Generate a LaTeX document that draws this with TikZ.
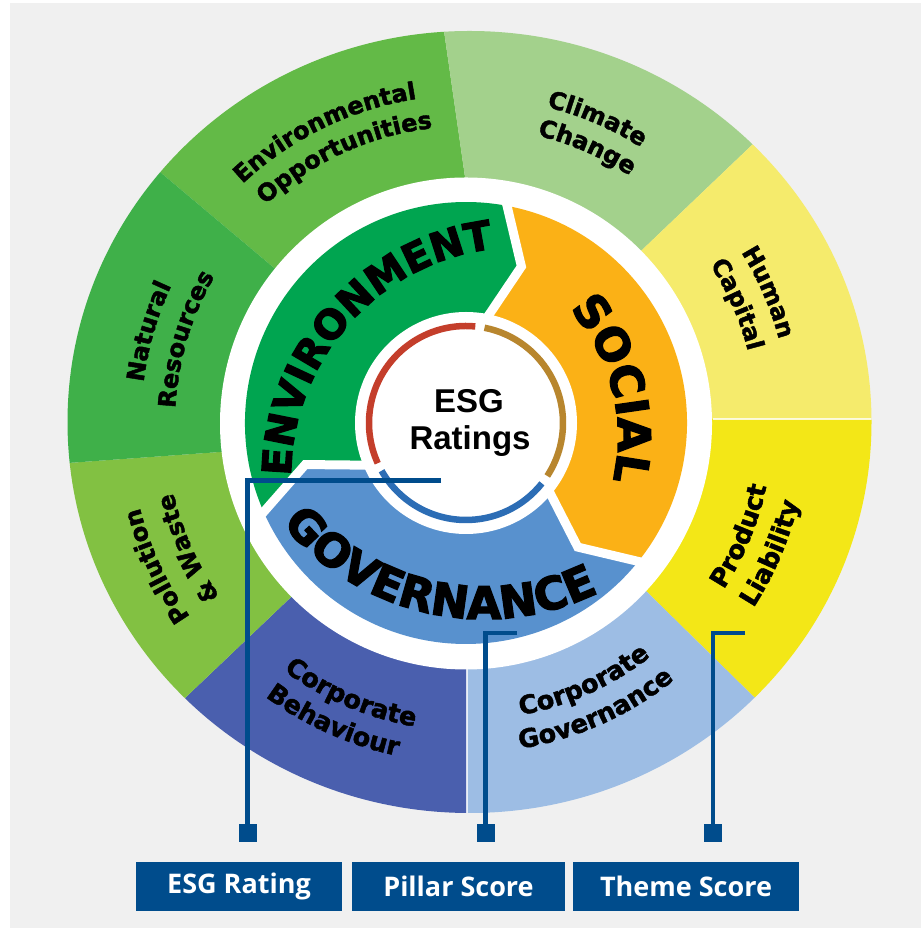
\documentclass[tikz,border=0pt]{standalone}
\usepackage{fontspec}
\setmainfont{Liberation Sans}
\newfontfamily\heavyfont{DejaVu Sans}[BoldFeatures={FakeBold=1.8}]
\newfontfamily\blackfont{DejaVu Sans}[BoldFeatures={FakeBold=3}]
\newfontfamily\boxfont{Open Sans}
\usetikzlibrary{decorations.text}

\definecolor{bggray}{HTML}{F0F0F0}
\definecolor{envopp}{HTML}{63BA47}
\definecolor{climate}{HTML}{A3D18C}
\definecolor{human}{HTML}{F5EB6C}
\definecolor{product}{HTML}{F3E717}
\definecolor{corpgov}{HTML}{9DBDE4}
\definecolor{corpbeh}{HTML}{4A5FAE}
\definecolor{pollution}{HTML}{82C142}
\definecolor{natural}{HTML}{3FB049}
\definecolor{envpillar}{HTML}{00A550}
\definecolor{socpillar}{HTML}{FBB116}
\definecolor{govpillar}{HTML}{5891CE}
\definecolor{ringred}{HTML}{C43E2B}
\definecolor{ringbrown}{HTML}{B8862E}
\definecolor{ringblue}{HTML}{2C6DB5}
\definecolor{navy}{HTML}{004C8C}

\newcommand\envfont{\blackfont\bfseries\fontsize{40}{40}\selectfont}
\newcommand\socfont{\blackfont\bfseries\fontsize{45}{45}\selectfont}
\newcommand\govfont{\blackfont\bfseries\fontsize{45}{45}\selectfont}
\newcommand\themefont{\heavyfont\bfseries\fontsize{24}{24}\selectfont}
\newcommand\themefontbig{\heavyfont\bfseries\fontsize{25.5}{25.5}\selectfont}

\begin{document}
\begin{tikzpicture}[x=1pt,y=1pt,
  conn/.style={draw=navy, line width=4.5pt},
  marker/.style={fill=navy, minimum size=18pt, inner sep=0pt, outer sep=0pt},
  scorebox/.style={fill=navy, text=white, minimum height=49pt, inner sep=0pt,
    font=\boxfont\bfseries\fontsize{27}{27}\selectfont},
  chevron/.style={draw=white, line width=9pt, line join=miter},
  seam/.style={draw=white, opacity=0.8, line width=2pt},
  ringarc/.style={line width=6.5pt}
]
\useasboundingbox (0,0) rectangle (921,928);
\fill[bggray] (10,0) rectangle (921,925);

% ---- outer ring of themes ----
\coordinate (c) at (467,505);
\coordinate (p1) at (465,751);  \coordinate (e1) at (402,1189);
\coordinate (p2) at (642,678);  \coordinate (e2) at (972,993);
\coordinate (p3) at (713,509);  \coordinate (e3) at (1190,509);
\coordinate (p4) at (647,336);  \coordinate (e4) at (968,21);
\coordinate (p5) at (467,259);  \coordinate (e5) at (467,-173);
\coordinate (p6) at (288,328);  \coordinate (e6) at (-21,34);
\coordinate (p7) at (220,476);  \coordinate (e7) at (-236,443);
\coordinate (p8) at (273,661);  \coordinate (e8) at (-66,946);
\begin{scope}
  \clip (469.5,506) ellipse [x radius=402, y radius=391];
  \fill[envopp]    (c) -- (p8) -- (e8) -- (e1) -- (p1) -- cycle;
  \fill[climate]   (c) -- (p1) -- (e1) -- (e2) -- (p2) -- cycle;
  \fill[human]     (c) -- (p2) -- (e2) -- (e3) -- (p3) -- cycle;
  \fill[product]   (c) -- (p3) -- (e3) -- (e4) -- (p4) -- cycle;
  \fill[corpgov]   (c) -- (p4) -- (e4) -- (e5) -- (p5) -- cycle;
  \fill[corpbeh]   (c) -- (p5) -- (e5) -- (e6) -- (p6) -- cycle;
  \fill[pollution] (c) -- (p6) -- (e6) -- (e7) -- (p7) -- cycle;
  \fill[natural]   (c) -- (p7) -- (e7) -- (e8) -- (p8) -- cycle;
  \draw[seam] (p3) -- (e3);
  \draw[seam] (p5) -- (e5);
\end{scope}
\fill[white] (466,504.5) circle [radius=246];

% ---- pillar ring ----
\begin{scope}[shift={(466,505)}]
  \fill[envpillar] (0,0) -- (205:100) -- (194.5:166) -- (205:221)
    arc[start angle=205, end angle=80.5, radius=221] -- (70.5:166) -- (80.5:100) -- cycle;
  \fill[socpillar] (0,0) -- (80.5:100) -- (70.5:166) -- (80.5:221)
    arc[start angle=80.5, end angle=-37.5, radius=221] -- (-48:167) -- (-37.5:100) -- cycle;
  \fill[govpillar] (0,0) -- (-37.5:100) -- (-48:167) -- (-37.5:221)
    arc[start angle=-37.5, end angle=-155, radius=221] -- (194.5:166) -- (205:100) -- cycle;
  \draw[chevron] (80.5:100) -- (70.5:166) -- (80.5:232);
  \draw[chevron] (-37.5:100) -- (-48:167) -- (-37.5:232);
  \draw[chevron] (205:100) -- (194.5:166) -- (205:232);
  % centre disc with its three coloured arcs
  \fill[white] (0,0) circle [radius=111];
  \draw[ringarc, ringred]   (84.5:97)  arc[start angle=84.5,  end angle=204.5, radius=97];
  \draw[ringarc, ringblue]  (209.5:97) arc[start angle=209.5, end angle=321.5, radius=97];
  \draw[ringarc, ringbrown] (326.9:97) arc[start angle=326.9, end angle=439,   radius=97];
\end{scope}

% ---- centre title ----
\node[anchor=base, font=\bfseries\fontsize{33}{33}\selectfont, inner sep=0pt] (esg) at (469,515) {ESG};
\node[anchor=base, font=\bfseries\fontsize{33}{33}\selectfont, inner sep=0pt] (ratings) at (470,478) {Ratings};

% ---- pillar names ----
\path[decorate, decoration={text along path, text align=center, text={|\envfont|ENVIRONMENT}}]
  (521,451) ++(178.1:230) arc[start angle=178.1, end angle=98.5, radius=230];
\path[decorate, decoration={text along path, text align=center, text={|\socfont|SOCIAL}}]
  (426,491.5) ++(41.3:192) arc[start angle=41.3, end angle=-12.9, radius=192];
\path[decorate, decoration={text along path, text align=center, text={|\govfont|GOVERNANCE}}]
  (484,570) ++(219.4:261) arc[start angle=219.4, end angle=296.1, radius=261];

% ---- theme names ----
\begin{scope}[shift={(467,505)}]
  \path[decorate, decoration={text along path, text align=center, text={|\themefont|Environmental}}]
    (134.5:328) arc[start angle=134.5, end angle=97.5, radius=328];
  \path[decorate, decoration={text along path, text align=center, text={|\themefont|Opportunities}}]
    (133.8:297) arc[start angle=133.8, end angle=95.6, radius=297];
  \path[decorate, decoration={text along path, text align=center, text={|\themefont|Climate}}]
    (75.7:326) arc[start angle=75.7, end angle=57.9, radius=326];
  \path[decorate, decoration={text along path, text align=center, text={|\themefont|Change}}]
    (75.9:296) arc[start angle=75.9, end angle=57, radius=296];
  \path[decorate, decoration={text along path, text align=center, text={|\themefont|Human}}]
    (33.5:323) arc[start angle=33.5, end angle=13.4, radius=323];
  \path[decorate, decoration={text along path, text align=center, text={|\themefont|Capital}}]
    (34.1:290) arc[start angle=34.1, end angle=13.3, radius=290];
  \path[decorate, decoration={text along path, text align=center, text={|\themefontbig|Product}}]
    (-33:306) arc[start angle=-33, end angle=-11.9, radius=306];
  \path[decorate, decoration={text along path, text align=center, text={|\themefontbig|Liability}}]
    (-33.7:341) arc[start angle=-33.7, end angle=-12.6, radius=341];
  \path[decorate, decoration={text along path, text align=center, text={|\themefontbig|Corporate}}]
    (-78.9:297) arc[start angle=-78.9, end angle=-52.5, radius=297];
  \path[decorate, decoration={text along path, text align=center, text={|\themefontbig|Governance}}]
    (-80.3:330) arc[start angle=-80.3, end angle=-51.5, radius=330];
  \path[decorate, decoration={text along path, text align=center, text={|\themefontbig|Corporate}}]
    (231.5:308) arc[start angle=231.5, end angle=262.2, radius=308];
  \path[decorate, decoration={text along path, text align=center, text={|\themefontbig|Behaviour}}]
    (232.5:340) arc[start angle=232.5, end angle=259.3, radius=340];
  \path[decorate, decoration={text along path, text align=center, text={|\themefont|Pollution}}]
    (215.3:338) arc[start angle=215.3, end angle=194.2, radius=338];
  \path[decorate, decoration={text along path, text align=center, text={|\themefont|{\&} Waste}}]
    (215.9:302) arc[start angle=215.9, end angle=192.5, radius=302];
  \path[decorate, decoration={text along path, text align=center, text={|\themefont|Natural}}]
    (173.6:326) arc[start angle=173.6, end angle=154.3, radius=326];
  \path[decorate, decoration={text along path, text align=center, text={|\themefont|Resources}}]
    (178:292) arc[start angle=178, end angle=148.9, radius=292];
\end{scope}

% ---- score legend ----
\node[marker] (sq1) at (247.5,95) {};
\node[marker] (sq2) at (485.5,95) {};
\node[marker] (sq3) at (713,95) {};
\node[scorebox, minimum width=206pt] (rating) at (239,41.5) {ESG Rating};
\node[scorebox, minimum width=213pt] (pillar) at (458.5,41.5) {Pillar Score};
\node[scorebox, minimum width=226pt] (theme) at (686,41.5) {Theme Score};

\coordinate (esgend) at (441,447.5);
\coordinate (pillarend) at (517,295);
\coordinate (themeend) at (745,295);
\draw[conn] (esgend) -| (sq1.north);
\draw[conn] (pillarend) -| (sq2.north);
\draw[conn] (themeend) -| (sq3.north);
\end{tikzpicture}
\end{document}
